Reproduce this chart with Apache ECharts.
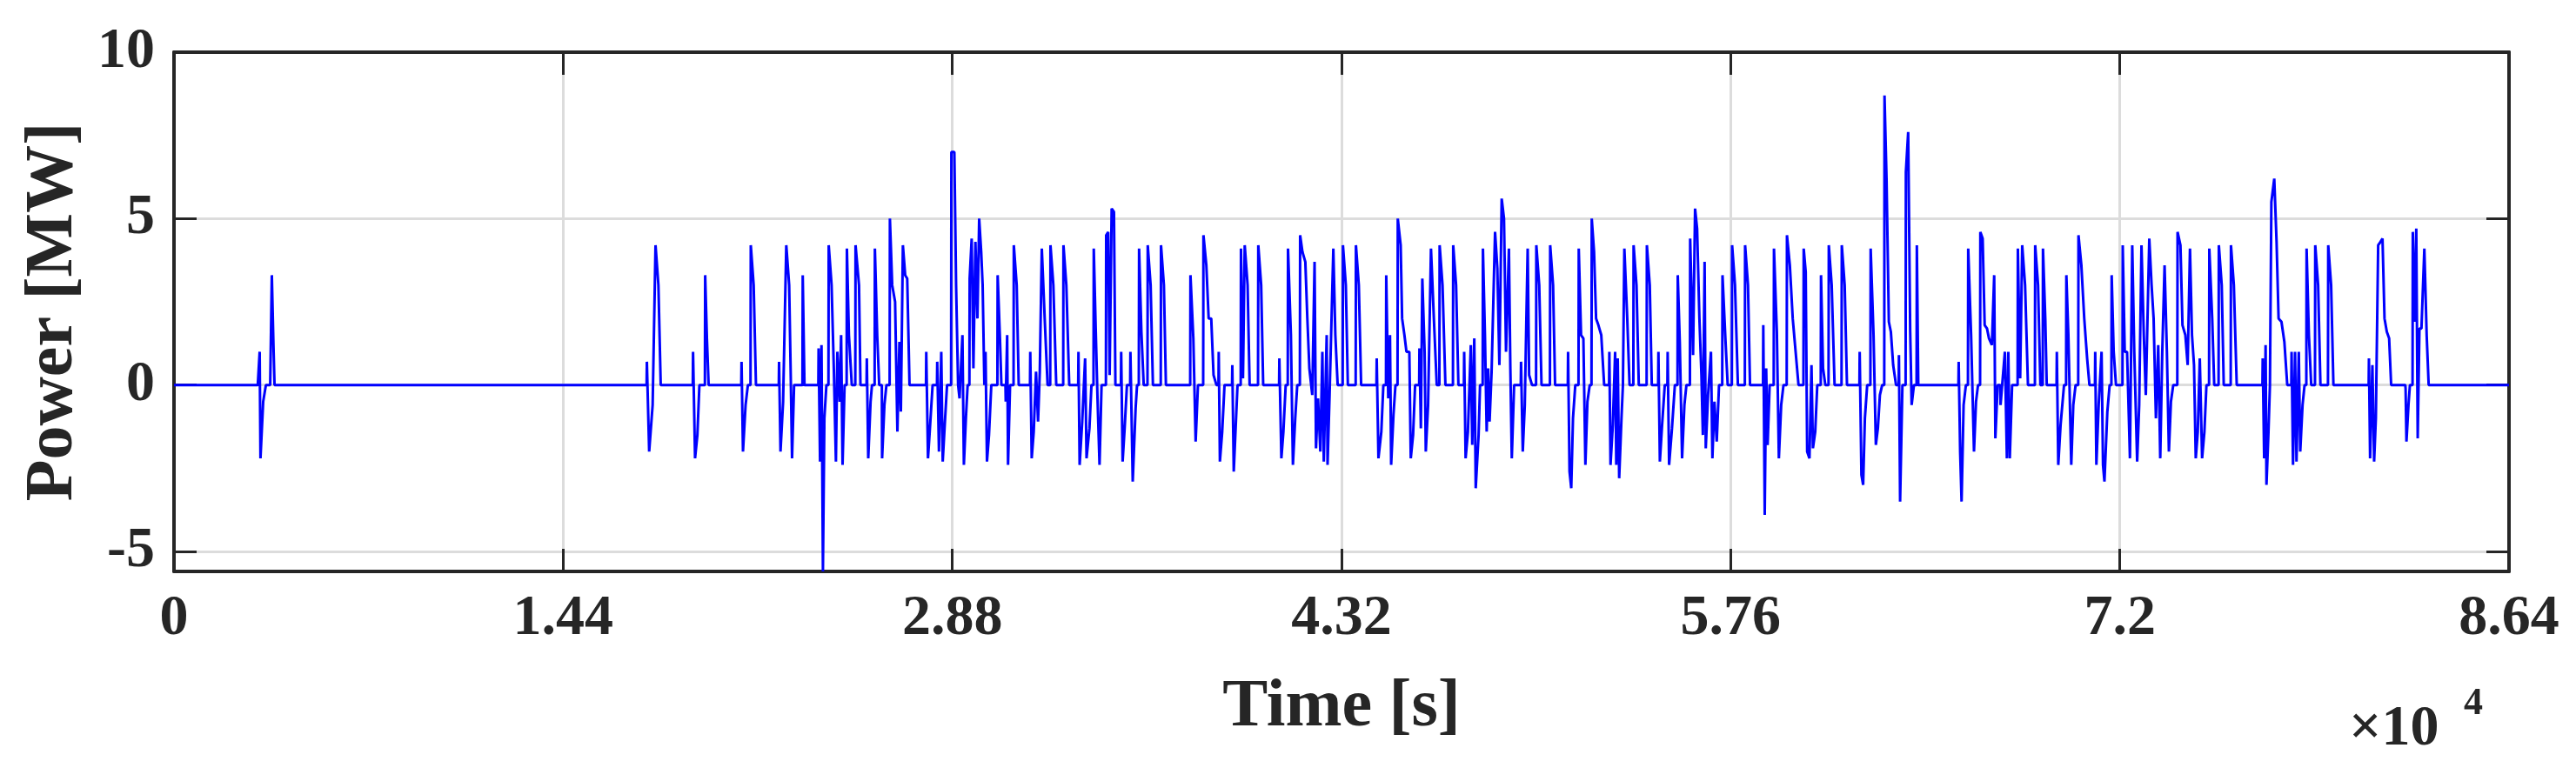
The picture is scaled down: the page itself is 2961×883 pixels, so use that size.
<!DOCTYPE html>
<html>
<head>
<meta charset="utf-8">
<script src="https://cdn.jsdelivr.net/npm/echarts@6/dist/echarts.min.js"></script>
<style>
html, body { margin: 0; padding: 0; background: #fff; }
#main { width: 2961px; height: 883px; }
</style>
</head>
<body>
<div id="main"></div>
<script>
// 时间刻度 (s)
var xTicks = [0, 14400, 28800, 43200, 57600, 72000, 86400];
var yTicks = [-5, 0, 5, 10];

// 第一段: 时间(s), 功率(MW)
var earlyTime = [0, 3100, 3170, 3200, 3300, 3400, 3560, 3620, 3680, 3720];
var earlyPower = [0, 0, 1.0, -2.2, -0.5, 0, 0, 3.3, 1.2, 0];

// 后面每段: 起点时间, 读数列 (每列约 10.68 s), 功率 (MW)
var stepSec = 10.68;
var segStart = [14400, 28800, 43200, 57600, 72000];
var segRef = [20, 15, 10, 5, -5];

var segCol1 = [310,318,330,340,350,358, 470,477,485,492,512,518,524, 638,643,652,660,670,680,688,
  768,773,782,793,803,808,813,820,850,856, 905,910,915,920,925,932,940,950,958,965,970,978,983,988,995,
  1003,1010,1020,1033,1045,1050,1072,1077,1085,1090,1100,1108,1115,1125,1133,1140,1152,1160,1170,1178,
  1185,1190,1197,1205,1212,1220,1278,1284,1290,1300,1316,1322,1330,1335,1342,1350,1365];
var segPow1 = [0.7,-2.0,-0.6,4.2,3.0,0, 1.0,-2.2,-1.5,0,3.3,1.4,0, 0.7,-2.0,-0.6,0,4.2,3.0,0,
  0.7,-2.0,-0.5,4.2,3.0,0.5,-2.2,0,3.3,0, 1.1,-2.3,1.2,-5.6,-1.0,0,4.2,3.0,0.4,-2.3,1.0,-0.5,1.5,-2.4,0,
  4.1,1.5,0,4.2,3.0,0,0.8,-2.2,-0.5,0,4.1,1.5,0,-2.2,-0.6,0,5.0,3.0,2.5,-1.4,
  1.3,-0.8,4.2,3.3,3.2,0,1.0,-2.2,-1.4,0,0.7,-2.0,1.0,-2.3,-1.2,0,7.0];

var segCol2 = [22,28,35, 40,50,55,62,68,75,82,88,95,102,108,115,120,126,130,135,142,150,172,180,185,
  200,205,208,215,228,238,245,285,290,297,305,312,318,325,335,345,355,365,375,400,410,420,
  452,456,465,475,480,490,497,505,512,518,525,532,548,555,560,567,575,580,600,605,612,620,
  632,640,650,655,662,670,678,692,702,710,738,748,755,840,850,858,866,885,895,903,912,920,930,
  938,942,950,958,985,990,995,1003,1015,1022,1028,1038,1045,1075,1085,1092,1148,1155,1162,1170,
  1178,1188,1195,1203,1210,1220,1228,1238,1245,1252,1262,1270,1275,1282,1290,1297,1302,1312,1315,
  1322,1335,1342,1350];
var segPow2 = [7.0,3.0,0, -0.4,1.5,-2.4,-1.0,0,3.2,4.4,0.5,4.3,2.0,5.0,4.0,3.0,0,1.0,-2.3,-1.5,0,3.3,1.4,0,
  -0.5,1.5,-2.4,0,4.2,3.0,0,1.0,-2.2,-1.4,0.4,-1.1,0.4,4.1,2.0,0,4.2,3.0,0,4.2,3.0,0,
  1.0,-2.4,-1.1,0.8,-2.2,-1.3,0,4.1,1.6,-0.4,-2.4,0,4.5,4.6,0.3,5.3,5.2,0,1.0,-2.3,-1.3,0,
  1.0,-2.9,-0.7,0,4.1,1.6,0,4.2,3.0,0,4.2,3.0,0,3.3,1.4,-1.7,0,4.5,3.6,2.0,2.0,0.3,0,
  1.0,-2.3,-1.4,0,0.6,-2.6,-1.6,0,4.1,0.2,4.2,3.0,0,4.2,3.0,0,0.8,-2.2,-1.4,0,
  4.1,1.5,-2.4,-1.0,0,4.5,4.0,3.7,2.0,0.5,-0.3,3.7,-1.9,-0.4,-2.0,1.0,-2.3,1.5,-2.4,
  -0.3,4.1,1.5,0];

var segCol3 = [15,25,32,60,70,78,132,138,148,155,165,172,178,182,190,197,205,215,220,228,235,245,250,258,265,
  280,285,290,298,302,310,320,330,340,350,360,370,397,407,415,435,440,448,458,463,470,475,485,490,
  500,507,513,518,523,530,542,550,557,565,573,580,590,595,600,608,632,638,645,655,660,670,685,695,703,
  733,743,750,795,800,806,812,820,832,840,848,855,862,870,877,885,892,900,910,920,
  938,942,950,958,962,967,972,980,985,990,1000,1008,1022,1032,1040,1068,1078,1085,
  1108,1113,1120,1130,1140,1145,1155,1165,1175,1182,1190,1198,1205,1218,1228,1235,1242,1250,1257,
  1262,1268,1272,1280,1290,1295,1302,1310,1318,1330,1340,1348];
var segPow3 = [4.2,3.0,0,4.2,3.0,0,0.8,-2.2,-1.4,0,3.3,-0.4,1.5,-2.4,-0.9,0,5.0,4.2,2.0,1.5,1.0,1.0,-2.2,-1.5,0,
  1.1,-1.3,3.2,1.0,-2.0,-0.6,4.1,2.0,0,4.2,3.0,0,4.2,3.0,0,1.0,-2.2,-1.4,1.2,-1.8,1.4,-3.1,-1.5,0,
  4.1,1.5,-1.4,0.5,-1.1,0.4,4.6,3.5,0.6,5.6,5.0,1.0,4.1,0.5,-2.2,0,0.7,-2.0,-0.6,4.1,0.3,0,4.2,3.0,0,
  4.2,3.0,0,1.0,-2.6,-3.1,-1.0,0,4.1,1.5,1.4,-2.4,-0.5,0,5.0,4.0,2.0,1.8,1.5,0,
  1.0,-2.4,-1.2,1.0,-2.4,0.8,-2.8,-1.0,0,4.1,2.0,0,4.2,3.0,0,4.2,3.0,0,
  1.0,-2.3,-1.3,0,1.0,-2.4,-1.3,0,3.3,1.3,-2.2,-0.6,0,4.4,0.9,5.3,4.7,2.0,0.3,
  -1.5,3.7,-1.9,-0.3,1.0,-2.2,-0.5,-1.7,0,3.3,1.4,0];

var segCol4 = [10,20,30,55,65,72,118,123,128,133,140,155,165,172,180,188,200,210,220,230,240,
  258,265,270,278,285,290,298,305,318,325,333,345,355,365,390,400,408,452,458,464,470,478,
  490,500,508,515,522,530,538,545,553,560,568,578,588,592,600,612,620,627,632,640,650,655,
  795,800,805,812,820,828,838,848,855,862,870,878,885,893,900,910,918,922,930,940,955,962,967,972,980,
  1000,1008,1015,1025,1035,1060,1070,1078,1087,1095,1100,1135,1140,1148,1160,1168,1175,1185,1192,1200,
  1210,1220,1230,1240,1248,1268,1272,1280,1290,1295,1300,1310,1318,1325,1332,1340];
var segPow4 = [4.2,3.0,0,4.2,3.0,0,1.8,-3.9,0.5,-1.8,0,4.1,1.6,-2.2,-0.6,0,4.5,3.6,2.0,1.0,0,
  4.1,3.4,-2.0,-2.2,0.6,-1.9,-1.4,0,3.3,0.5,0,4.2,3.0,0,4.2,3.0,0,1.0,-2.7,-3.0,-1.0,0,
  4.1,1.5,-1.8,-1.3,-0.3,0,8.7,6.2,1.9,1.6,0.6,0,0.9,-3.5,0,6.4,7.6,1.6,-0.6,0,4.2,0,
  0.7,-2.0,-3.5,-0.6,0,4.1,1.5,-2.0,-0.5,0,4.6,4.4,1.8,1.7,1.4,1.2,3.3,-1.6,0,-0.6,1.0,-2.2,1.0,-2.2,0,
  4.1,0.2,4.2,3.0,0,4.2,3.0,0,4.1,2.0,0,1.0,-2.4,-1.2,0,3.3,1.5,-2.4,-0.6,0,
  4.5,3.6,2.0,0.8,0,1.0,-2.4,-0.6,1.0,-2.4,-2.9,-0.8,0,3.3,1.0,0];

var segCol5 = [5,12,20,30,38,45,55,62,70,78,85,97,105,112,120,128,135,142,150,158,165,172,180,
  195,205,212,222,230,238,245,252,258,265,272,280,288,295,305,315,322,338,348,355,380,390,400,
  490,495,500,503,510,515,520,530,538,545,555,565,575,590,595,602,607,615,620,628,635,
  642,650,658,672,682,690,717,727,735,858,862,870,876,882,890,898,905,912,920,928,935,
  985,988,995,1000,1010,1018,1022,1027,1033,1040,1050,1058,1065,1340];
var segPow5 = [4.2,1.0,1.0,-2.2,4.2,1.0,-2.3,-0.6,4.2,1.5,-0.3,4.4,3.0,2.0,-1.0,1.2,-2.2,1.0,3.6,1.0,-2.0,-0.5,0,
  4.6,4.2,1.8,1.5,0.6,4.1,1.5,0.6,-2.2,-1.4,0.8,-2.2,-1.4,0,4.1,2.0,0,4.2,3.0,0,4.2,3.0,0,
  0.8,-2.2,1.2,-3.0,-1.4,0,5.5,6.2,4.3,2.0,1.9,1.3,0,1.0,-2.4,1.0,-2.3,1.0,-2.0,-0.6,0,
  4.1,1.5,0,4.2,3.0,0,4.2,3.0,0,0.8,-2.2,0.6,-2.3,-1.0,4.2,4.3,4.4,2.0,1.6,1.4,0,
  -0.1,-1.7,-0.6,0,4.6,1.9,4.7,-1.6,1.7,1.7,4.1,1.5,0,0];

var segCols = [segCol1, segCol2, segCol3, segCol4, segCol5];
var segPows = [segPow1, segPow2, segPow3, segPow4, segPow5];

// 组装曲线数据, 事件前补一个零点
var lineData = [];
function pushPoint(t, v) {
	var last = lineData[lineData.length - 1];
	if (last && last[1] === 0 && v !== 0 && t - last[0] > 15) {
		lineData.push([t - 10, 0]);
	}
	lineData.push([t, v]);
}
earlyTime.forEach(function(t, i) { pushPoint(t, earlyPower[i]); });
pushPoint(14000, 0);
segCols.forEach(function(cols, s) {
	cols.forEach(function(c, i) {
		pushPoint(segStart[s] + (c - segRef[s]) * stepSec, segPows[s][i]);
	});
});
pushPoint(86400, 0);

var myChart = echarts.init(document.getElementById('main'));
var font = 'Liberation Serif';
var dark = '#262626';
var tickStyle = { color: dark, width: 3 };
var option = {
	backgroundColor: '#fff',
	animation: false,
	grid: { left: 200, right: 77, top: 60, bottom: 226 },
	xAxis: [{
		type: 'value', min: 0, max: 86400, interval: 14400,
		name: 'Time [s]', nameLocation: 'middle', nameGap: 118,
		nameTextStyle: { fontFamily: font, fontWeight: 'bold', fontSize: 78, color: dark },
		axisLine: { show: true, onZero: false, lineStyle: { color: dark, width: 4 } },
		axisTick: { inside: true, length: 26, lineStyle: tickStyle },
		axisLabel: {
			margin: 22, fontFamily: font, fontWeight: 'bold', fontSize: 66, color: dark,
			formatter: function(v) { return v === 0 ? '0' : String(+(v / 1e4).toFixed(2)); }
		},
		splitLine: { show: true, lineStyle: { color: '#dcdcdc', width: 3 } }
	}, {
		type: 'value', position: 'top', min: 0, max: 86400, interval: 14400,
		axisLine: { show: true, onZero: false, lineStyle: { color: dark, width: 4 } },
		axisLabel: { show: false }, splitLine: { show: false },
		axisTick: { inside: true, length: 26, lineStyle: tickStyle }
	}],
	yAxis: [{
		type: 'value', min: -5.6, max: 10,
		name: 'Power [MW]', nameLocation: 'middle', nameGap: 96,
		nameTextStyle: { fontFamily: font, fontWeight: 'bold', fontSize: 78, color: dark },
		axisLine: { show: true, onZero: false, lineStyle: { color: dark, width: 4 } },
		axisTick: { inside: true, length: 26, customValues: yTicks, lineStyle: tickStyle },
		axisLabel: { margin: 22, customValues: yTicks, fontFamily: font, fontWeight: 'bold', fontSize: 66, color: dark },
		splitLine: { show: true, lineStyle: { color: '#dcdcdc', width: 3 } }
	}, {
		type: 'value', position: 'right', min: -5.6, max: 10,
		axisLine: { show: true, onZero: false, lineStyle: { color: dark, width: 4 } },
		axisLabel: { show: false, customValues: yTicks }, splitLine: { show: false },
		axisTick: { inside: true, length: 26, customValues: yTicks, lineStyle: tickStyle }
	}],
	graphic: [{
		type: 'text', left: 2700, top: 806,
		style: { text: '×10', fontFamily: font, fontWeight: 'bold', fontSize: 66, fill: dark }
	}, {
		type: 'text', left: 2832, top: 788,
		style: { text: '4', fontFamily: font, fontWeight: 'bold', fontSize: 44, fill: dark }
	}],
	series: [{
		type: 'line', xAxisIndex: 0, yAxisIndex: 0,
		data: lineData, showSymbol: false, symbol: 'none',
		lineStyle: { color: '#0000ff', width: 3 },
		clip: true
	}]
};
myChart.setOption(option);
</script>
</body>
</html>
